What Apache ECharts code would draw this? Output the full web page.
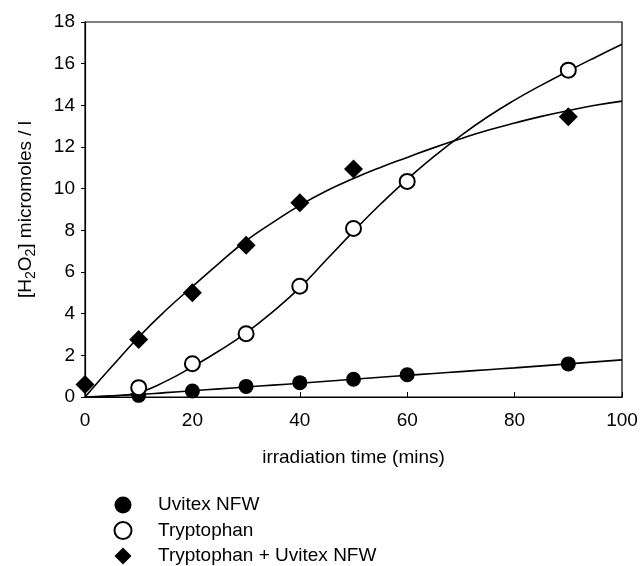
<!DOCTYPE html>
<html>
<head>
<meta charset="utf-8">
<script src="https://cdn.jsdelivr.net/npm/echarts@6/dist/echarts.min.js"></script>
<style>html,body{margin:0;padding:0;background:#fff}#c{width:641px;height:566px}</style>
</head>
<body>
<div id="c"></div>
<script>
// measured points
var uvitexX = [10, 20, 30, 40, 50, 60, 90];
var uvitexY = [0.08, 0.29, 0.51, 0.69, 0.85, 1.07, 1.59];
var tryptX = [10, 20, 30, 40, 50, 60, 90];
var tryptY = [0.45, 1.6, 3.04, 5.32, 8.09, 10.35, 15.69];
var comboX = [0, 10, 20, 30, 40, 50, 90];
var comboY = [0.6, 2.76, 5.0, 7.29, 9.32, 10.94, 13.45];
// fitted curves
var fitX = [0, 5, 10, 15, 20, 25, 30, 35, 40, 45, 50, 55, 60, 65, 70, 75, 80, 85, 90, 95, 100];
var uvitexFit = [0, 0.06, 0.12, 0.21, 0.3, 0.39, 0.48, 0.57, 0.66, 0.755, 0.85, 0.945, 1.04, 1.13, 1.22, 1.31, 1.4, 1.495, 1.59, 1.685, 1.78];
var tryptFit = [0, 0.05, 0.22, 0.75, 1.45, 2.22, 3.08, 4.1, 5.25, 6.6, 7.95, 9.25, 10.45, 11.55, 12.55, 13.45, 14.25, 14.97, 15.65, 16.3, 16.93];
var comboFit = [0, 1.46, 2.88, 4.15, 5.3, 6.43, 7.5, 8.38, 9.2, 9.9, 10.49, 11.02, 11.5, 11.97, 12.4, 12.8, 13.15, 13.47, 13.75, 14.0, 14.2];
// ticks
var xTicks = [0, 20, 40, 60, 80, 100];
var yTicks = [0, 2, 4, 6, 8, 10, 12, 14, 16, 18];
var seriesNames = ['Uvitex NFW', 'Tryptophan', 'Tryptophan + Uvitex NFW'];

function pairs(xs, ys) { return xs.map(function (x, i) { return [x, ys[i]]; }); }

var FONT = 'Liberation Sans, Arial, sans-serif';
var chart = echarts.init(document.getElementById('c'));
var fitStyle = { color: '#000', width: 1.6 };
function fit(ys) {
  return { type: 'line', data: pairs(fitX, ys), smooth: 0.5, showSymbol: false, lineStyle: fitStyle, silent: true, z: 1 };
}
chart.setOption({
  animation: false,
  backgroundColor: '#fff',
  textStyle: { fontFamily: FONT, color: '#000' },
  grid: { left: 85, right: 19, top: 22, bottom: 169, show: true, borderColor: '#000', borderWidth: 1.2, backgroundColor: 'transparent' },
  xAxis: {
    type: 'value', min: xTicks[0], max: xTicks[xTicks.length - 1], interval: 20,
    name: 'irradiation time (mins)', nameLocation: 'middle', nameGap: 51,
    nameTextStyle: { fontSize: 19, color: '#000', fontFamily: FONT },
    axisLine: { lineStyle: { color: '#000', width: 1.2 } },
    axisTick: { inside: true, length: 5, lineStyle: { color: '#000' } },
    axisLabel: { fontSize: 19, color: '#000', margin: 14, fontFamily: FONT },
    splitLine: { show: false }
  },
  yAxis: {
    type: 'value', min: yTicks[0], max: yTicks[yTicks.length - 1], interval: 2,
    name: '[H{sub|2}O{sub|2}] micromoles / l', nameLocation: 'middle', nameGap: 47, nameRotate: 90,
    nameTextStyle: {
      fontSize: 19, color: '#000', fontFamily: FONT,
      rich: { sub: { fontSize: 14, fontFamily: FONT, color: '#000', verticalAlign: 'bottom', padding: [10, 0, 0, 0] } }
    },
    axisLine: { lineStyle: { color: '#000', width: 1.2 } },
    axisTick: { inside: false, length: 4, lineStyle: { color: '#000' } },
    axisLabel: { fontSize: 19, color: '#000', margin: 10, fontFamily: FONT },
    splitLine: { show: false }
  },
  legend: {
    orient: 'vertical', left: 113.5, top: 495.5, height: 120, padding: 0, itemWidth: 17, itemHeight: 17, itemGap: 6.5,
    textStyle: { fontSize: 19, lineHeight: 17, color: '#000', fontFamily: FONT, padding: [0, 0, 0, 21.5] },
    data: [
      { name: seriesNames[0], icon: 'circle' },
      { name: seriesNames[1], icon: 'emptyCircle' },
      { name: seriesNames[2], icon: 'diamond' }
    ]
  },
  series: [
    fit(uvitexFit), fit(tryptFit), fit(comboFit),
    { name: seriesNames[0], type: 'scatter', data: pairs(uvitexX, uvitexY), symbol: 'circle', symbolSize: 15, itemStyle: { color: '#000', opacity: 1 }, z: 3 },
    { name: seriesNames[1], type: 'scatter', data: pairs(tryptX, tryptY), symbol: 'emptyCircle', symbolSize: 15, itemStyle: { color: '#000', borderColor: '#000', borderWidth: 1, opacity: 1 }, z: 3 },
    { name: seriesNames[2], type: 'scatter', data: pairs(comboX, comboY), symbol: 'diamond', symbolSize: 19, itemStyle: { color: '#000', opacity: 1 }, z: 3 }
  ]
});
</script>
</body>
</html>
